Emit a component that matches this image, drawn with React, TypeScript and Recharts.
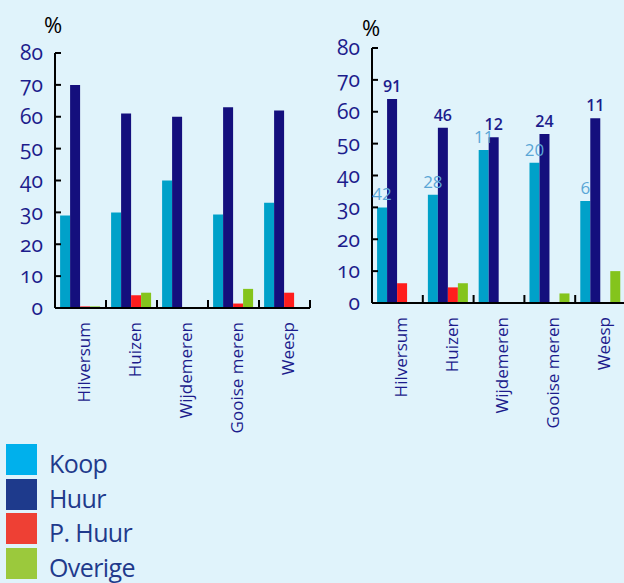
import React from 'react';
import { BarChart, Bar, XAxis, YAxis, LabelList } from 'recharts';

const categories = ['Hilversum', 'Huizen', 'Wijdemeren', 'Gooise meren', 'Weesp'];

const leftKoop = [29, 30, 40, 29.3, 33];
const leftHuur = [70, 61, 60, 63, 62];
const leftPHuur = [0.5, 4, 0, 1.4, 4.8];
const leftOverige = [0.5, 4.8, 0, 6, 0];

const rightKoop = [30, 34, 48, 44, 32];
const rightHuur = [64, 55, 52, 53, 58];
const rightPHuur = [6.2, 4.9, 0, 0.3, 0.3];
const rightOverige = [0, 6.2, 0, 3, 10];
const rightKoopCounts = ['42', '28', '11', '20', '6'];
const rightHuurCounts = ['91', '46', '12', '24', '11'];

const yTicks = [0, 10, 20, 30, 40, 50, 60, 70, 80];

const series = [
  { key: 'koop', name: 'Koop', bar: '#00a1c9', legend: '#00b0ec' },
  { key: 'huur', name: 'Huur', bar: '#140f7d', legend: '#1e3a8c' },
  { key: 'phuur', name: 'P. Huur', bar: '#ff1d1d', legend: '#ee4034' },
  { key: 'overige', name: 'Overige', bar: '#84c41c', legend: '#9bc93c' },
];

const leftData = categories.map((name, i) => ({
  name,
  koop: leftKoop[i],
  huur: leftHuur[i],
  phuur: leftPHuur[i],
  overige: leftOverige[i],
}));

const rightData = categories.map((name, i) => ({
  name,
  koop: rightKoop[i],
  huur: rightHuur[i],
  phuur: rightPHuur[i],
  overige: rightOverige[i],
  koopN: rightKoopCounts[i],
  huurN: rightHuurCounts[i],
}));

const FONT = '"Open Sans", "Noto Sans", sans-serif';
const NAVY = '#1c1c8c';

const CHART_W = 320;

const YTick = (props: any) => {
  const { x, y, payload } = props;
  return (
    <text
      x={Number(x)}
      y={Number(y)}
      dy="0.35em"
      textAnchor="end"
      fontSize={21}
      fill={NAVY}
      fontFamily={FONT}
      style={{ fontVariantNumeric: 'oldstyle-nums' }}
    >
      {payload.value}
    </text>
  );
};

const XTick = (props: any) => {
  const { x, y, payload, half } = props;
  const px = Number(x);
  const py = Number(y);
  const bx = px + Number(half);
  // tick marks sit on the category boundaries, not the centres
  return (
    <g>
      <rect x={bx - 1} y={py - 8} width={2} height={8} fill="#000" />
      <text
        transform={`translate(${px},${py + 14}) rotate(-90)`}
        dy="0.55em"
        textAnchor="end"
        fontSize={17}
        fill={NAVY}
        fontFamily={FONT}
      >
        {payload.value}
      </text>
    </g>
  );
};

const renderBars = (withCounts: boolean) =>
  series.map((s) => (
    <Bar key={s.key} dataKey={s.key} fill={s.bar} isAnimationActive={false}>
      {withCounts && s.key === 'koop' && (
        <LabelList dataKey="koopN" position="top" offset={7} fill="#5aa6d6" fontSize={17} fontFamily={FONT} />
      )}
      {withCounts && s.key === 'huur' && (
        <LabelList dataKey="huurN" position="top" offset={7} fill={NAVY} fontSize={16} fontWeight={600} fontFamily={FONT} />
      )}
    </Bar>
  ));

const axes = (yWidth: number, rightMargin: number) => {
  const band = (CHART_W - yWidth - rightMargin) / categories.length;
  return [
    <XAxis
      key="x"
      dataKey="name"
      interval={0}
      height={130}
      tick={(p: any) => <XTick {...p} half={band / 2} />}
      tickLine={false}
      tickSize={0}
      tickMargin={0}
      axisLine={{ stroke: '#000', strokeWidth: 2 }}
    />,
    <YAxis
      key="y"
      width={yWidth}
      domain={[0, 80]}
      ticks={yTicks}
      interval={0}
      tick={(p: any) => <YTick {...p} />}
      tickLine={{ stroke: '#000', strokeWidth: 2 }}
      tickSize={-6}
      tickMargin={18}
      axisLine={{ stroke: '#000', strokeWidth: 2 }}
    />,
  ];
};

const percentStyle: React.CSSProperties = {
  position: 'absolute',
  fontSize: 22,
  lineHeight: '24px',
  color: '#000',
  fontFamily: FONT,
};

export default function App() {
  return (
    <div
      style={{
        position: 'absolute',
        left: 0,
        top: 0,
        width: 624,
        height: 583,
        overflow: 'hidden',
        background: '#e0f3fb',
        fontFamily: FONT,
      }}
    >
      <div style={{ position: 'absolute', left: 0, top: 0 }}>
        <BarChart
          width={CHART_W}
          height={438}
          data={leftData}
          margin={{ top: 53, right: 10, left: 0, bottom: 0 }}
          barCategoryGap="10%"
          barGap={0}
        >
          {axes(55, 10)}
          {renderBars(false)}
        </BarChart>
      </div>
      <div style={{ position: 'absolute', left: 320, top: 0 }}>
        <BarChart
          width={CHART_W}
          height={433}
          data={rightData}
          margin={{ top: 48, right: 14, left: 0, bottom: 0 }}
          barCategoryGap="10%"
          barGap={0}
        >
          {axes(52, 14)}
          {renderBars(true)}
        </BarChart>
      </div>

      <div style={{ ...percentStyle, left: 44, top: 12 }}>%</div>
      <div style={{ ...percentStyle, left: 362, top: 15 }}>%</div>

      {series.map((s, i) => (
        <div key={s.key} style={{ position: 'absolute', left: 6, top: 444 + i * 34.7, height: 31 }}>
          <div style={{ position: 'absolute', left: 0, top: 0, width: 31, height: 31, background: s.legend }} />
          <div
            style={{
              position: 'absolute',
              left: 43,
              top: 4,
              fontSize: 25,
              lineHeight: '31px',
              color: '#1f3a8c',
              whiteSpace: 'nowrap',
              letterSpacing: -0.6,
            }}
          >
            {s.name}
          </div>
        </div>
      ))}
    </div>
  );
}
